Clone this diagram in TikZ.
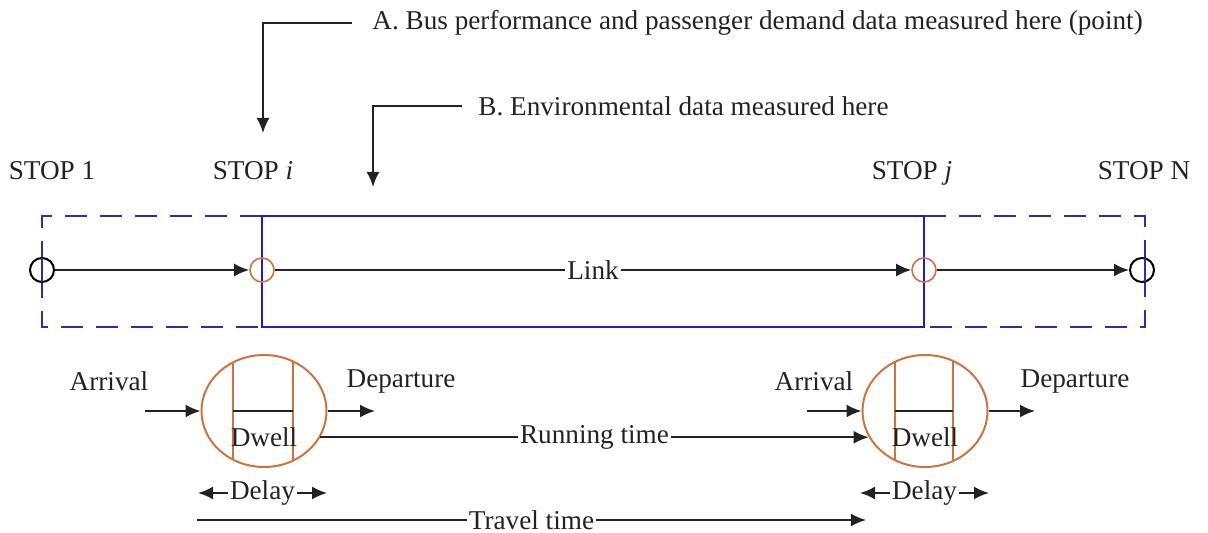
\documentclass[tikz,border=0pt]{standalone}
\usepackage{fontspec}
\setmainfont{Liberation Serif}
\usetikzlibrary{arrows.meta,shapes.geometric,calc}
\definecolor{inkgray}{RGB}{34,34,34}
\definecolor{linkblue}{RGB}{30,30,200}
\definecolor{zoneblue}{RGB}{45,45,165}
\definecolor{stoporange}{RGB}{205,115,65}
\begin{document}
\begin{tikzpicture}[x=0.5pt,y=-0.5pt,
  every node/.style={font=\fontsize{13.6}{16}\selectfont, text=inkgray},
  tip/.tip={Latex[length=7.5pt,width=6.5pt]},
  conn/.style={draw=inkgray, line width=1pt, -tip},
  twoway/.style={draw=inkgray, line width=1pt, tip-tip},
  plainline/.style={draw=inkgray, line width=1pt},
  onlabel/.style={fill=white, inner xsep=1pt, inner ysep=0pt},
  stoplabel/.style={anchor=base},
  endstop/.style={circle, draw=black, line width=1pt, minimum size=12pt, inner sep=0pt},
  midstop/.style={circle, draw=stoporange, line width=0.8pt, minimum size=12pt, inner sep=0pt},
  zone/.style={draw=zoneblue, line width=1.1pt, dash pattern=on 11pt off 6.5pt},
  linkzone/.style={draw=linkblue, line width=1.1pt},
  dwellzone/.style={ellipse, draw=stoporange, line width=1pt, minimum width=62.5pt, minimum height=56pt, inner sep=0pt},
  dwellbar/.style={draw=stoporange, line width=1pt}
]
\useasboundingbox (0,0) rectangle (1208,533);

% route corridor: dashed end sections and the solid link section
\draw[zone] (262,216) -- (42,216) -- (42,327) -- (262,327);
\draw[zone] (924,216) -- (1145,216) -- (1145,327) -- (924,327);
\draw[linkzone] (262,216) rectangle (924,327);

% stops along the route
\node[endstop] (s1) at (42,270) {};
\node[midstop] (si) at (262,270) {};
\node[midstop] (sj) at (924,270) {};
\node[endstop] (sn) at (1142,270) {};
% the zone edges run through the end stops
\draw[draw=zoneblue, line width=1.1pt] (42,258) -- (42,282);
\draw[draw=zoneblue, line width=1.1pt] (1145,258) -- (1145,282);

\node[stoplabel] (l1) at (52,180) {STOP 1};
\node[stoplabel] (li) at (253,180) {STOP \textit{i}};
\node[stoplabel] (lj) at (912,180) {STOP \textit{j}};
\node[stoplabel] (ln) at (1144,180) {STOP N};

\draw[conn] (s1) -- (si);
\draw[conn] (si) -- node[onlabel] (link) {Link} (sj);
\draw[conn] (sj) -- (sn);

% measurement call-outs
\node[anchor=west, inner xsep=10pt] (ta) at (352,23) {A. Bus performance and passenger demand data measured here (point)};
\coordinate (pa) at (263,133);
\draw[conn] (ta.west) -| (pa);

\node[anchor=west, inner xsep=8pt] (tb) at (462,106) {B. Environmental data measured here};
\coordinate (pb) at (373,187);
\draw[conn] (tb.west) -| (pb);

% dwell at stop i
\node[dwellzone] (di) at (264,411) {};
\draw[dwellbar] ($(di.center)+(-31,-48.5)$) -- ($(di.center)+(-31,48.5)$);
\draw[dwellbar] ($(di.center)+(29,-49)$) -- ($(di.center)+(29,49)$);
\draw[plainline] ($(di.center)+(-31,0)$) -- ($(di.center)+(29,0)$);
\node (dwi) at (264,437) {Dwell};

\coordinate (ai) at (145,411);
\coordinate (ei) at (375,411);
\draw[conn] (ai) -- (di.west);
\draw[conn] (di.east) -- (ei);
\node (arri) at (109,381) {Arrival};
\node (depi) at (401,381) {Departure};

% dwell at stop j
\node[dwellzone] (dj) at (925,411) {};
\draw[dwellbar] ($(dj.center)+(-30,-48.5)$) -- ($(dj.center)+(-30,48.5)$);
\draw[dwellbar] ($(dj.center)+(28,-49)$) -- ($(dj.center)+(28,49)$);
\draw[plainline] ($(dj.center)+(-30,0)$) -- ($(dj.center)+(28,0)$);
\node (dwj) at (925,437) {Dwell};

\coordinate (aj) at (807,411);
\coordinate (ej) at (1035,411);
\draw[conn] (aj) -- (dj.west);
\draw[conn] (dj.east) -- (ej);
\node (arrj) at (814,381) {Arrival};
\node (depj) at (1075,381) {Departure};

% running time between the two dwells
\draw[conn] (di.-25) -- node[onlabel] (run) {Running time} (dj.205);

% delays
\coordinate (dli) at (198,493);
\coordinate (dri) at (327,493);
\draw[twoway] (dli) -- node[onlabel] (dly1) {Delay} (dri);
\coordinate (dlj) at (860,493);
\coordinate (drj) at (989,493);
\draw[twoway] (dlj) -- node[onlabel] (dly2) {Delay} (drj);

% travel time
\coordinate (tt0) at (197,520);
\coordinate (tt1) at (866,520);
\draw[conn] (tt0) -- node[onlabel] (tt) {Travel time} (tt1);
\end{tikzpicture}
\end{document}
